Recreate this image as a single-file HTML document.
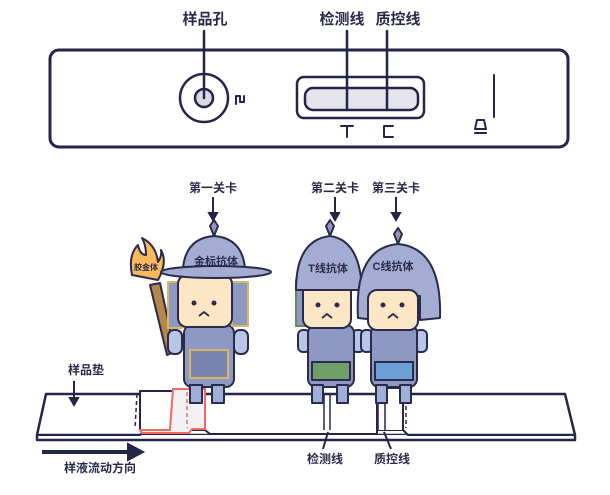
<!DOCTYPE html>
<html><head><meta charset="utf-8"><style>
html,body{margin:0;padding:0;background:#fff;width:610px;height:495px;overflow:hidden}
text{font-family:"Liberation Sans","Noto Sans CJK SC",sans-serif;fill:#2b2a4a;font-weight:bold}
</style></head><body>
<svg width="610" height="495" viewBox="0 0 610 495" xmlns="http://www.w3.org/2000/svg">
<g stroke="#26244a" fill="none" stroke-linecap="round" stroke-linejoin="round">
<rect x="50" y="50" width="518" height="97" rx="9" stroke-width="3" fill="#fff"/>
<circle cx="204" cy="98" r="24" stroke-width="2.5"/>
<circle cx="204" cy="98" r="9" stroke-width="2.5" fill="#d9d9e2"/>
<line x1="204" y1="31" x2="204" y2="98" stroke-width="2.5"/>
<path d="M236 104 V96 H240 V102 H244 V96" stroke-width="2"/>
<rect x="297" y="77" width="127" height="41" rx="7" stroke-width="2.5"/>
<rect x="305" y="88" width="113" height="22" rx="8" stroke-width="2.5" fill="#e4e4ea"/>
<line x1="347" y1="31" x2="347" y2="110" stroke-width="2.5"/>
<line x1="387" y1="31" x2="387" y2="110" stroke-width="2.5"/>
<path d="M341 126 H353 M347 126 V137" stroke-width="2"/>
<path d="M393 126 H384 V137 H393" stroke-width="2"/>
<line x1="494" y1="75" x2="494" y2="117" stroke-width="2"/>
<path d="M475 129 L477 120 H484 L486 129 Z M475 133 H486" stroke-width="2"/>
</g>
<text x="205" y="24" font-size="15" text-anchor="middle">样品孔</text>
<text x="342" y="24" font-size="15" text-anchor="middle">检测线</text>
<text x="398" y="24" font-size="15" text-anchor="middle">质控线</text>

<g stroke="#26244a" stroke-width="2.5" fill="#fff" stroke-linejoin="round">
<path d="M37 435 L46 394 H565 L575 435 Z"/>
<path d="M37 435 V440 H575 V435" />
<path d="M37 435 L140 435 L145 430 H205 L210 434 H377 V430 H403 L408 435 H575" fill="none" stroke-width="2"/>
<path d="M140 430 V391 H205 V430" fill="#fff" stroke-width="2"/>
<path d="M377 430 V388 H403 V430" fill="#fff" stroke-width="2"/>
</g>
<path d="M173 389 H205 V429 H192 L189 433 H142 L140 430 H170 Z" fill="#f2f2f4" stroke="#f06a60" stroke-width="2"/>
<path d="M187 392 V428" stroke="#f06a60" stroke-width="1.5" stroke-dasharray="4 3"/>
<path d="M137 394 L135 428 M406 392 L406 428" stroke="#26244a" stroke-width="1.5" stroke-dasharray="4 3" fill="none"/>
<g stroke="#26244a" stroke-width="1.5"><line x1="324" y1="395" x2="324" y2="430"/><line x1="330" y1="395" x2="330" y2="430"/><line x1="378" y1="395" x2="378" y2="430"/><line x1="385" y1="395" x2="385" y2="430"/></g>

<g stroke="#2b2a4a" stroke-width="2" stroke-linejoin="round">
 <path d="M150 285 L167 355 L175 352 L160 283 Z" fill="#b4874a"/>
 <path d="M132 275 Q128 255 138 245 Q140 255 146 255 Q146 245 142 238 Q156 245 158 262 Q162 256 161 250 Q168 262 158 280 Z" fill="#f7b95b"/>
 <!-- soldier 1 -->
 <rect x="168" y="330" width="14" height="24" rx="6" fill="#b7c5e6"/>
 <rect x="234" y="330" width="14" height="24" rx="6" fill="#b7c5e6"/>
 <rect x="184" y="325" width="50" height="62" rx="8" fill="#8d99c2"/>
 <rect x="190" y="350" width="38" height="28" fill="#7784b0" stroke="#d9b860"/>
 <rect x="190" y="385" width="12" height="18" fill="#9fb0d8"/><rect x="212" y="385" width="12" height="18" fill="#9fb0d8"/>
 <rect x="168" y="282" width="14" height="46" fill="#8d99c2" stroke="#d9b860"/>
 <rect x="232" y="282" width="16" height="44" fill="#8d99c2" stroke="#d9b860"/>
 <rect x="178" y="275" width="54" height="52" rx="9" fill="#fde6c6"/>
 <path d="M183 268 Q186 238 214 236 Q242 238 245 268 Z" fill="#a3acd3"/>
 <ellipse cx="216" cy="272" rx="55" ry="6" fill="#a3acd3"/>
 <path d="M214 236 L210 226 L214 220 L218 226 Z" fill="#8d99c2"/>
 <!-- soldier 2 -->
 <rect x="298" y="330" width="12" height="22" rx="5" fill="#b7c5e6"/>
 <rect x="352" y="330" width="12" height="22" rx="5" fill="#b7c5e6"/>
 <rect x="308" y="325" width="46" height="62" rx="8" fill="#8d99c2"/>
 <path d="M312 362 H350 V380 H312 Z" fill="#6f9e6a"/>
 <rect x="312" y="385" width="11" height="18" fill="#9fb0d8"/><rect x="337" y="385" width="11" height="18" fill="#9fb0d8"/>
 <rect x="296" y="280" width="12" height="46" fill="#8d99c2" stroke="#5e8f57"/>
 <rect x="303" y="283" width="48" height="45" rx="9" fill="#fde6c6"/>
 <path d="M296 290 Q296 240 330 236 Q360 240 362 290 Z" fill="#a3acd3"/>
 <path d="M330 236 L326 226 L330 220 L334 226 Z" fill="#8d99c2"/>
 <!-- soldier 3 -->
 <rect x="361" y="330" width="12" height="22" rx="5" fill="#b7c5e6"/>
 <rect x="415" y="330" width="12" height="22" rx="5" fill="#b7c5e6"/>
 <rect x="371" y="325" width="46" height="62" rx="8" fill="#8d99c2"/>
 <path d="M375 362 H413 V380 H375 Z" fill="#6ea0d8"/>
 <rect x="376" y="385" width="11" height="18" fill="#9fb0d8"/><rect x="400" y="385" width="11" height="18" fill="#9fb0d8"/>
 <path d="M358 318 Q354 248 398 244 Q442 248 440 318 L420 320 L420 296 H376 V320 Z" fill="#a3acd3"/>
 <rect x="368" y="290" width="50" height="40" rx="9" fill="#fde6c6"/>
 <path d="M398 244 L394 234 L398 228 L402 234 Z" fill="#8d99c2"/>
</g>
<g fill="#2b2a4a">
 <circle cx="194" cy="303" r="2.5"/><circle cx="214" cy="303" r="2.5"/>
 <circle cx="318" cy="305" r="2.5"/><circle cx="337" cy="305" r="2.5"/>
 <circle cx="383" cy="305" r="2.5"/><circle cx="402" cy="305" r="2.5"/>
</g>
<g stroke="#2b2a4a" stroke-width="1.8" fill="none">
 <path d="M199 316 L204 312 L209 316"/><path d="M322 318 L327 314 L332 318"/><path d="M388 318 L393 314 L398 318"/>
</g>
<text x="216" y="265" font-size="11" text-anchor="middle" font-weight="normal">金标抗体</text>
<text x="328" y="272" font-size="11" text-anchor="middle" font-weight="normal">T线抗体</text>
<text x="393" y="270" font-size="11" text-anchor="middle" font-weight="normal">C线抗体</text>
<text x="146" y="270" font-size="8" text-anchor="middle" font-weight="normal">胶金体</text>

<g stroke="#26244a" stroke-width="2" fill="#26244a">
 <line x1="213" y1="197" x2="213" y2="215"/><path d="M209 213 L213 220 L217 213 Z"/>
 <line x1="335" y1="197" x2="335" y2="215"/><path d="M331 213 L335 220 L339 213 Z"/>
 <line x1="396" y1="197" x2="396" y2="215"/><path d="M392 213 L396 220 L400 213 Z"/>
 <line x1="74" y1="381" x2="74" y2="400"/><path d="M70 398 L74 405 L78 398 Z"/>
 <line x1="42" y1="452" x2="135" y2="452" stroke-width="4"/><path d="M128 444 L143 452 L128 460 Z"/>
 <line x1="328" y1="432" x2="323" y2="449"/><line x1="384" y1="432" x2="391" y2="449"/>
</g>
<text x="213" y="192" font-size="12" text-anchor="middle">第一关卡</text>
<text x="335" y="192" font-size="12" text-anchor="middle">第二关卡</text>
<text x="396" y="192" font-size="12" text-anchor="middle">第三关卡</text>
<text x="86" y="374" font-size="12" text-anchor="middle">样品垫</text>
<text x="100" y="472" font-size="12" text-anchor="middle">样液流动方向</text>
<text x="325" y="463" font-size="12" text-anchor="middle">检测线</text>
<text x="392" y="463" font-size="12" text-anchor="middle">质控线</text>
</svg>
</body></html>
